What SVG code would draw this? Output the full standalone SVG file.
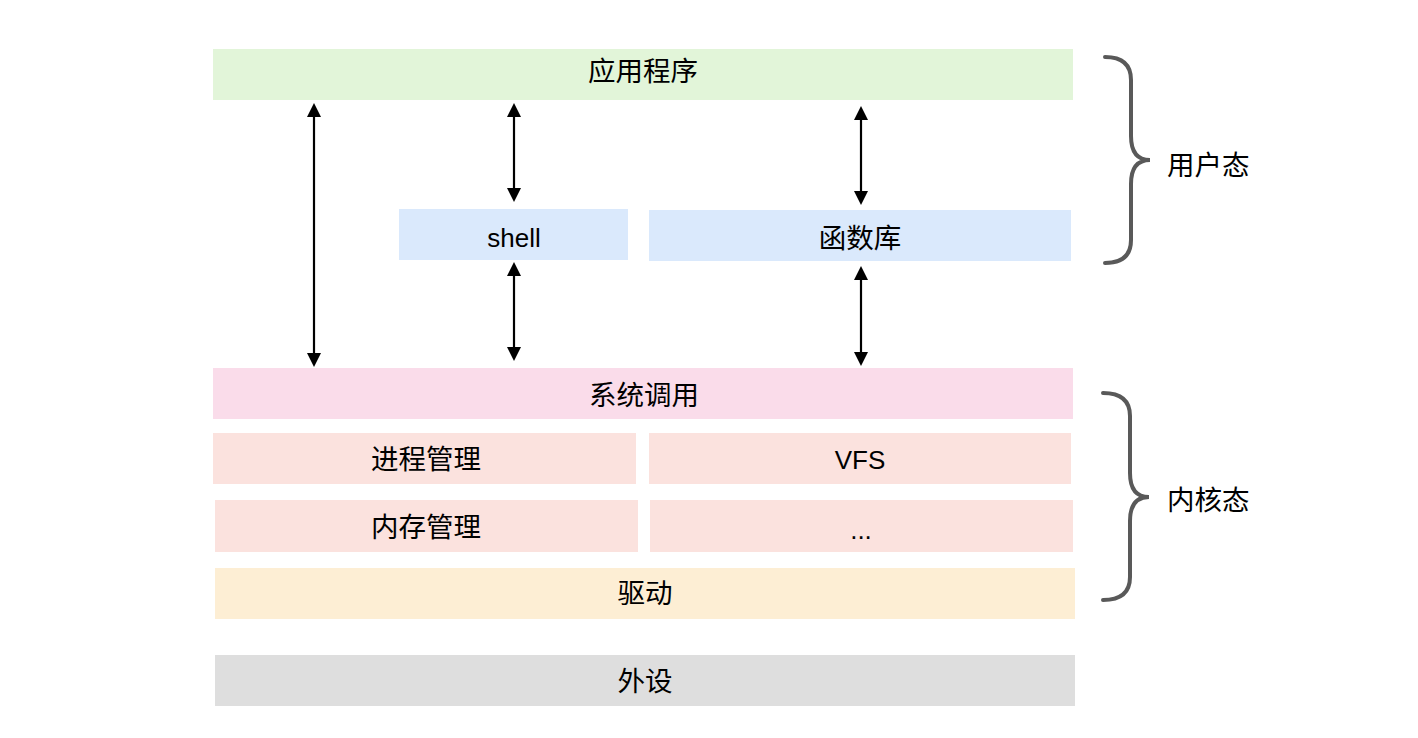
<svg xmlns="http://www.w3.org/2000/svg" width="1418" height="738" viewBox="0 0 1418 738">
<defs>
<style>
.cjk{font-family:"Noto Sans CJK SC","Liberation Sans",sans-serif;font-size:27.5px;fill:#000;text-anchor:middle}
.lat{font-family:"Liberation Sans",Arial,sans-serif;font-size:26px;fill:#000;text-anchor:middle}
.conn{stroke:#000;stroke-width:2.2;fill:none;marker-start:url(#ah);marker-end:url(#ah)}
.brace{stroke:#595959;stroke-width:4;fill:none;stroke-linecap:round}
</style>
<marker id="ah" markerUnits="userSpaceOnUse" markerWidth="14" markerHeight="14" refX="4" refY="7" orient="auto-start-reverse" viewBox="0 0 14 14">
<path d="M0,0 L14,7 L0,14 z" fill="#000"/>
</marker>
</defs>
<rect width="1418" height="738" fill="#fff"/>
<g id="app"><rect x="213" y="49" width="860" height="51" fill="#e2f5d9"/><text class="cjk" x="643" y="81">应用程序</text></g>
<g id="shell"><rect x="399" y="209" width="229" height="51" fill="#dae9fc"/><text class="lat" x="514" y="247">shell</text></g>
<g id="lib"><rect x="649" y="210" width="422" height="51" fill="#dae9fc"/><text class="cjk" x="860" y="248">函数库</text></g>
<g id="syscall"><rect x="213" y="368" width="860" height="51" fill="#fadcea"/><text class="cjk" x="644" y="405">系统调用</text></g>
<g id="proc"><rect x="213" y="433" width="423" height="51" fill="#fbe2de"/><text class="cjk" x="426" y="469">进程管理</text></g>
<g id="vfs"><rect x="649" y="433" width="422" height="51" fill="#fbe2de"/><text class="lat" x="860" y="469">VFS</text></g>
<g id="mem"><rect x="215" y="500" width="423" height="52" fill="#fbe2de"/><text class="cjk" x="426" y="537">内存管理</text></g>
<g id="etc"><rect x="650" y="500" width="423" height="52" fill="#fbe2de"/><text class="lat" x="861" y="539">...</text></g>
<g id="driver"><rect x="215" y="568" width="860" height="51" fill="#fdeed4"/><text class="cjk" x="645" y="603">驱动</text></g>
<g id="device"><rect x="215" y="655" width="860" height="51" fill="#dedede"/><text class="cjk" x="645" y="691">外设</text></g>
<g id="user-mode"><path class="brace" d="M1105,57 Q1131,57 1131,80 L1131,136 Q1131,160 1150,160 Q1131,160 1131,184 L1131,240 Q1131,263 1105,263"/><text class="cjk" x="1167" y="175" style="text-anchor:start">用户态</text></g>
<g id="kernel-mode"><path class="brace" d="M1103,393 Q1130,393 1130,416 L1130,473 Q1130,497 1149,497 Q1130,497 1130,521 L1130,577 Q1130,600 1103,600"/><text class="cjk" x="1167" y="510" style="text-anchor:start">内核态</text></g>
<g id="connectors">
<line class="conn" x1="314" y1="113" x2="314" y2="357"/>
<line class="conn" x1="514" y1="113" x2="514" y2="192"/>
<line class="conn" x1="514" y1="272" x2="514" y2="351"/>
<line class="conn" x1="861" y1="116" x2="861" y2="195"/>
<line class="conn" x1="861" y1="276" x2="861" y2="356"/>
</g>
</svg>
